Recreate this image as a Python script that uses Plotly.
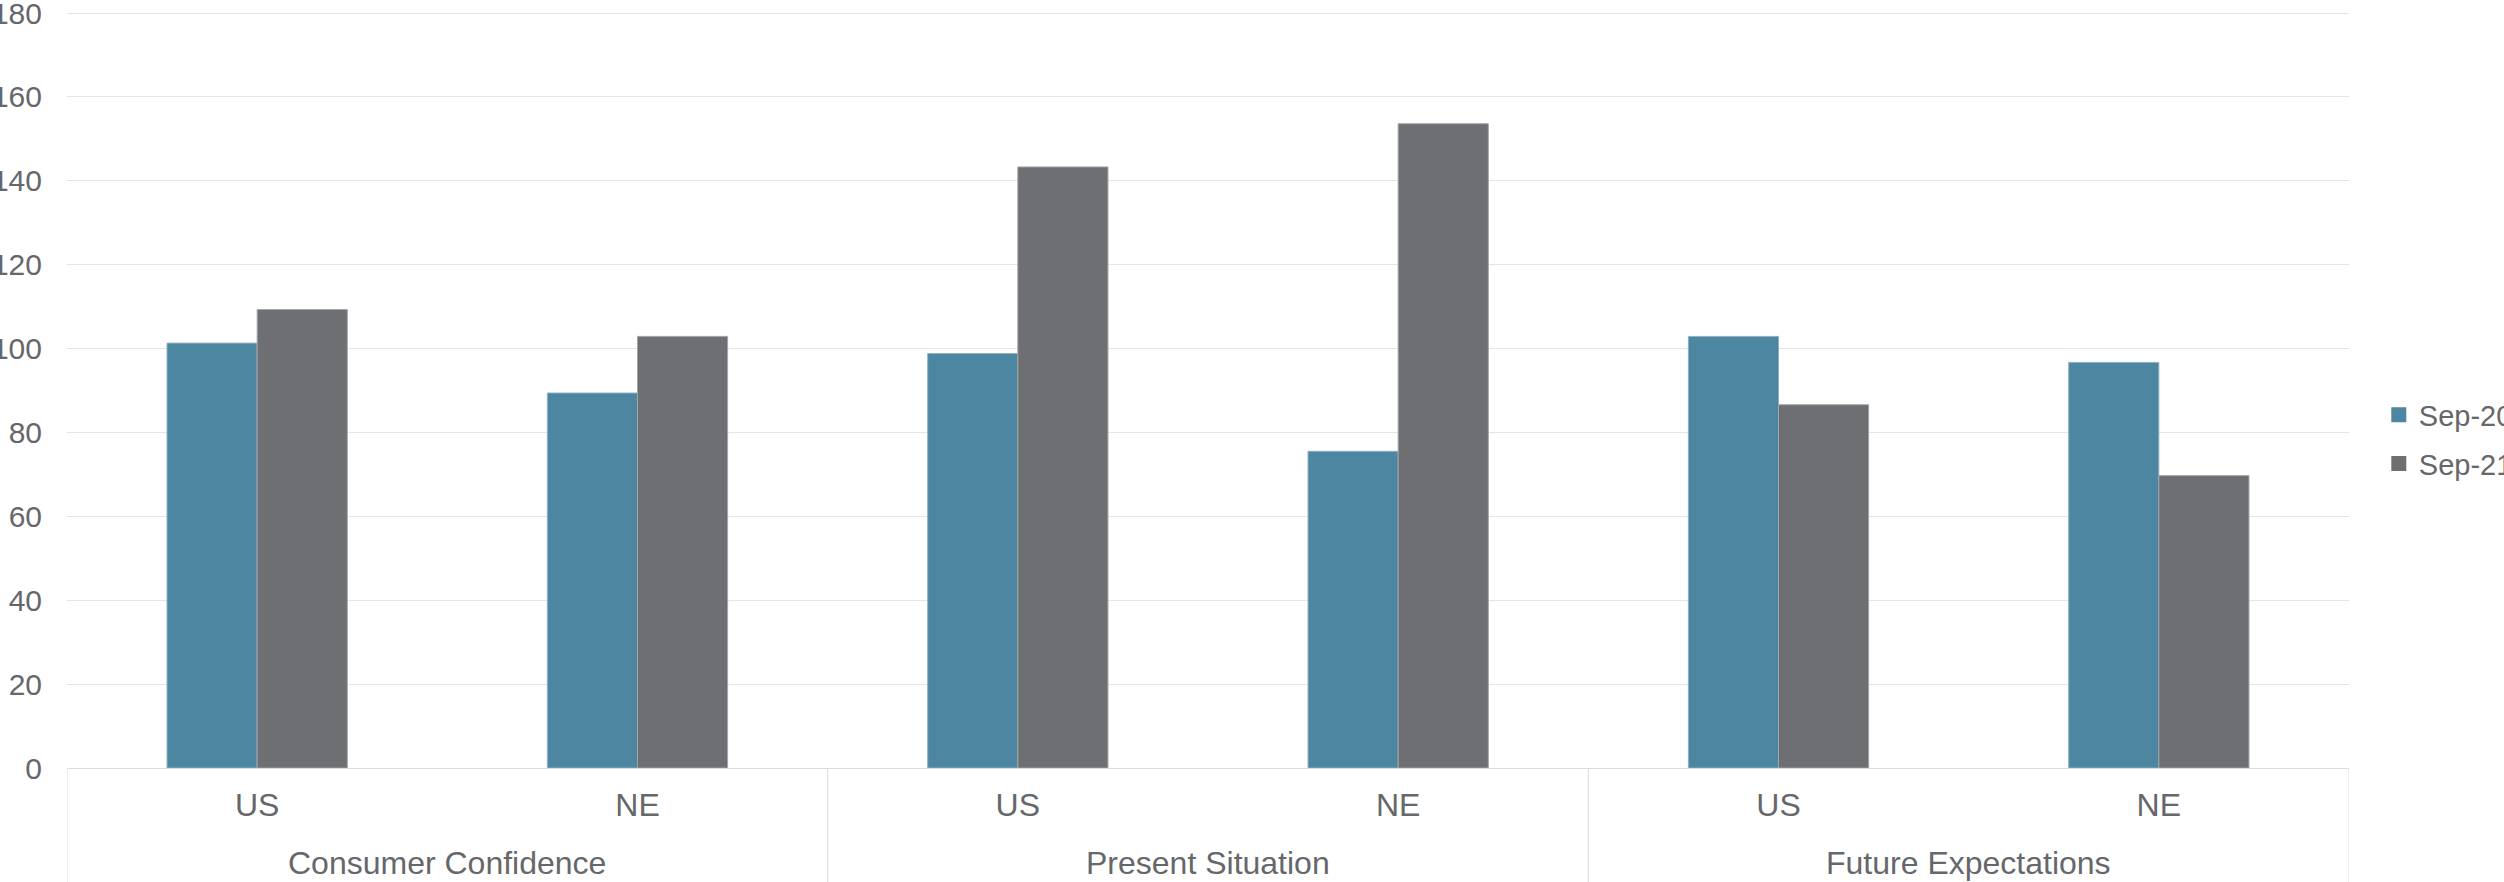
import plotly.graph_objects as go

groups = ["Consumer Confidence", "Consumer Confidence",
          "Present Situation", "Present Situation",
          "Future Expectations", "Future Expectations"]
regions = ["US", "NE", "US", "NE", "US", "NE"]
series_names = ["Sep-20", "Sep-21"]
sep20 = [101.3, 89.4, 98.8, 75.5, 102.9, 96.7]
sep21 = [109.3, 102.9, 143.3, 153.6, 86.6, 69.7]
y_ticks = [0, 20, 40, 60, 80, 100, 120, 140, 160, 180]

colors = ["#4D86A0", "#6E6F73"]
edge = ["#8DB1C2", "#A3A4A7"]
text_color = "#66676B"
axis_color = "#DCDCDC"
font_family = "Liberation Sans, Arial, sans-serif"

W, H = 2504, 882
M = dict(l=67, r=155, t=12, b=114)
plot_h = H - M["t"] - M["b"]

pos = list(range(len(regions)))

fig = go.Figure()
for name, vals, c, e in zip(series_names, [sep20, sep21], colors, edge):
    fig.add_trace(go.Bar(
        x=pos, y=vals, name=name,
        customdata=[[g, r] for g, r in zip(groups, regions)],
        hovertemplate="%{customdata[0]} %{customdata[1]}: %{y}<extra>" + name + "</extra>",
        marker=dict(color=c, line=dict(color=e, width=1)),
        legendgroup=name, showlegend=False,
    ))
    # legend entry with a larger square key
    fig.add_trace(go.Scatter(
        x=[None], y=[None], mode="markers", name=name,
        marker=dict(symbol="square", size=15, color=c),
        legendgroup=name, showlegend=True, hoverinfo="skip",
    ))

# group boundaries and group centres from the category lists
group_names = []
group_members = {}
for i, g in enumerate(groups):
    if g not in group_members:
        group_names.append(g)
        group_members[g] = []
    group_members[g].append(i)

boundaries = [min(group_members[g]) - 0.5 for g in group_names] + [max(group_members[group_names[-1]]) + 0.5]
bottom = -M["b"] / plot_h
for b in boundaries:
    fig.add_shape(type="line", xref="x", yref="paper", x0=b, x1=b, y0=0, y1=bottom,
                  line=dict(color=axis_color, width=1), layer="below")
for g in group_names:
    members = group_members[g]
    fig.add_annotation(
        x=sum(members) / len(members), xref="x",
        y=-(863 - (H - M["b"])) / plot_h, yref="paper", yanchor="middle",
        text=g, showarrow=False,
        font=dict(size=32, color=text_color, family=font_family),
    )

fig.update_layout(
    width=W, height=H,
    margin=dict(**M, autoexpand=False),
    paper_bgcolor="white", plot_bgcolor="white",
    barmode="group", bargap=0.526, bargroupgap=0,
    font=dict(family=font_family, color=text_color, size=30),
    showlegend=True,
    legend=dict(
        xref="container", yref="container",
        x=0.950, xanchor="left", y=1 - 439.5 / H, yanchor="middle",
        font=dict(size=29, color=text_color),
        traceorder="grouped", tracegroupgap=8,
        bgcolor="rgba(0,0,0,0)", borderwidth=0,
    ),
)
fig.update_yaxes(
    range=[0, 180.24], tickvals=y_ticks, ticktext=[str(v) for v in y_ticks],
    showgrid=True, gridcolor="#E4E4E4", gridwidth=1,
    zeroline=False, showline=False, automargin=False,
    ticks="outside", ticklen=18, tickcolor="rgba(0,0,0,0)",
    ticklabeloverflow="allow",
    tickfont=dict(size=30, color=text_color),
)
fig.update_xaxes(
    range=[-0.5, len(regions) - 0.5], tickvals=pos, ticktext=regions,
    automargin=False,
    showline=True, linecolor=axis_color, linewidth=1,
    ticks="outside", ticklen=9, tickcolor="rgba(0,0,0,0)",
    tickfont=dict(size=32, color=text_color),
    showgrid=False, zeroline=False,
)

fig.write_html("out.html")
